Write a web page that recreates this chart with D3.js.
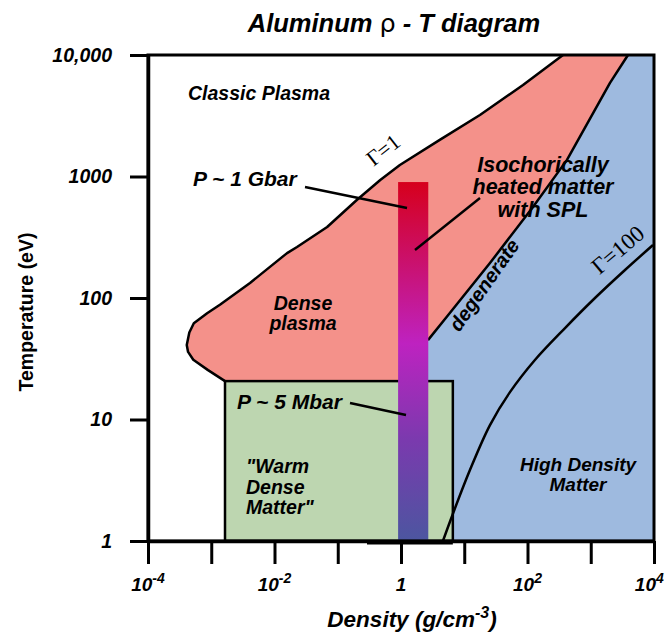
<!DOCTYPE html>
<html>
<head>
<meta charset="utf-8">
<script src="https://cdn.jsdelivr.net/npm/d3@7"></script>
<style>
  html, body { margin: 0; padding: 0; background: #fff; }
  svg { display: block; }
  .lbl { font-family: "Liberation Sans", Arial, sans-serif; font-weight: bold; font-style: italic; fill: #000; }
  .gam { font-family: "Liberation Serif", "Times New Roman", serif; font-weight: normal; font-style: normal; fill: #000; }
</style>
</head>
<body>
<svg id="chart" width="666" height="633"></svg>
<script>
// Axis ticks (decades) and their labels
const densityTicks = [1e-4, 1e-3, 1e-2, 1e-1, 1, 1e1, 1e2, 1e3, 1e4];
const densityLabels = [[1e-4, "10", "-4"], [1e-2, "10", "-2"], [1, "1", ""], [1e2, "10", "2"], [1e4, "10", "4"]];
const temperatureTicks = [1, 10, 100, 1000, 10000];
const temperatureLabels = ["1", "10", "100", "1000", "10,000"];

// Region boundaries as [density g/cc, temperature eV]
// Gamma = 1 coupling line, bounding the dense plasma from below-left up to the top edge
const gammaOneLine = [
  [1.65e-3, 20.7], [8.9e-4, 25.5], [5.2e-4, 31], [4.3e-4, 36], [4.1e-4, 41],
  [4.5e-4, 52], [5.3e-4, 62], [8.6e-4, 75], [1.37e-3, 88], [4.1e-3, 133],
  [0.0158, 234], [0.0227, 263], [0.068, 384], [0.2, 641], [0.47, 936],
  [0.96, 1244], [4.1, 2000], [17.7, 3210], [85, 5660], [364, 10000]
];
// Degeneracy boundary, from the top edge down to the heating column
const degenerateLine = [
  [3880, 10000], [2015, 5890], [421, 1370], [122, 561], [25.5, 194], [5.3, 70], [2.67, 45], [1.4, 20.7]
];
// Gamma = 100 coupling line
const gammaHundredLine = [
  [4.6, 1], [6.6, 1.67], [12.3, 3.84], [25.5, 9.0], [52.8, 16.8], [131, 30.9],
  [392, 56.6], [1167, 100], [3480, 170], [9640, 273]
];
// Warm dense matter box
const wdmDensity = [1.65e-3, 6.6];
const wdmTemperature = [1, 20.7];
// Isochoric heating column
const splDensity = [0.9, 2.7];
const splTemperature = [1, 900];

const svg = d3.select("#chart");

const x = d3.scaleLog().domain([1e-4, 1e4]).range([148, 654]);
const y = d3.scaleLog().domain([1, 1e4]).range([541, 55]);

const line = d3.line().x(d => x(d[0])).y(d => y(d[1]));
const smooth = d3.line().x(d => x(d[0])).y(d => y(d[1])).curve(d3.curveCatmullRom.alpha(0.5));

// Gradient for the heating column
const defs = svg.append("defs");
const grad = defs.append("linearGradient").attr("id", "splGrad")
  .attr("x1", 0).attr("y1", 0).attr("x2", 0).attr("y2", 1);
grad.append("stop").attr("offset", "0%").attr("stop-color", "#D6001C");
grad.append("stop").attr("offset", "45%").attr("stop-color", "#BE22C0");
grad.append("stop").attr("offset", "72%").attr("stop-color", "#7A3AAE");
grad.append("stop").attr("offset", "100%").attr("stop-color", "#4C56A0");

const plot = svg.append("g");

// Dense plasma region (between Gamma=1 and degeneracy)
const densePlasma = gammaOneLine.concat(degenerateLine);
plot.append("path")
  .attr("d", line(densePlasma) + "Z")
  .attr("fill", "#F4918A");

// Degenerate / high density region
const highDensity = degenerateLine.concat([
  [wdmDensity[1], wdmTemperature[1]],
  [wdmDensity[1], 1], [1e4, 1], [1e4, 1e4]
]);
plot.append("path")
  .attr("d", line(highDensity) + "Z")
  .attr("fill", "#9EBADF");

// Warm dense matter box
plot.append("rect")
  .attr("x", x(wdmDensity[0]))
  .attr("y", y(wdmTemperature[1]))
  .attr("width", x(wdmDensity[1]) - x(wdmDensity[0]))
  .attr("height", y(wdmTemperature[0]) - y(wdmTemperature[1]))
  .attr("fill", "#BDD6B0")
  .attr("stroke", "#000").attr("stroke-width", 2.5);

// Boundary lines
plot.append("path").attr("d", line(gammaOneLine))
  .attr("fill", "none").attr("stroke", "#000").attr("stroke-width", 2.5).attr("stroke-linejoin", "round");
plot.append("path").attr("d", line(degenerateLine.slice(0, -1)))
  .attr("fill", "none").attr("stroke", "#000").attr("stroke-width", 2.5).attr("stroke-linejoin", "round");
plot.append("path").attr("d", smooth(gammaHundredLine))
  .attr("fill", "none").attr("stroke", "#000").attr("stroke-width", 2.5);

// Thick segment along the bottom edge
plot.append("line")
  .attr("x1", x(0.29)).attr("x2", x(wdmDensity[1]))
  .attr("y1", y(1) + 2).attr("y2", y(1) + 2)
  .attr("stroke", "#000").attr("stroke-width", 3);

// Heating column
plot.append("rect")
  .attr("x", x(splDensity[0]))
  .attr("y", y(splTemperature[1]))
  .attr("width", x(splDensity[1]) - x(splDensity[0]))
  .attr("height", y(splTemperature[0]) - y(splTemperature[1]))
  .attr("fill", "url(#splGrad)");

// Leader lines
const leaders = [
  [[305, 187], [407, 208]],
  [[480, 198], [415, 250]],
  [[350, 403], [406, 415]]
];
plot.selectAll("line.leader").data(leaders).join("line")
  .attr("class", "leader")
  .attr("x1", d => d[0][0]).attr("y1", d => d[0][1])
  .attr("x2", d => d[1][0]).attr("y2", d => d[1][1])
  .attr("stroke", "#000").attr("stroke-width", 2.5);

// Text annotations
function multi(lines, cx, y0, dy, size, anchor) {
  const t = plot.append("text").attr("class", "lbl")
    .attr("font-size", size).attr("text-anchor", anchor);
  lines.forEach((s, i) => t.append("tspan").attr("x", cx).attr("y", y0 + i * dy).text(s));
  return t;
}
multi(["Classic Plasma"], 188, 100, 0, 19.5, "start");
multi(["P ~ 1 Gbar"], 193, 186, 0, 21, "start");
multi(["Dense", "plasma"], 303, 310, 20, 19.5, "middle");
multi(["Isochorically", "heated matter", "with SPL"], 543, 171.5, 22.5, 21.5, "middle");
multi(["High Density", "Matter"], 578, 471, 20, 19, "middle");
multi(["P ~ 5 Mbar"], 237, 409, 0, 21, "start");
multi(["\"Warm", "Dense", "Matter\""], 246, 473, 20.5, 19.5, "start");

plot.append("text").attr("class", "lbl").attr("font-size", 20)
  .attr("text-anchor", "middle").attr("dominant-baseline", "central")
  .attr("transform", "translate(484,285) rotate(-55)")
  .text("degenerate");

plot.append("text").attr("class", "gam").attr("font-size", 22)
  .attr("text-anchor", "middle").attr("dominant-baseline", "central")
  .attr("transform", "translate(383,150) rotate(-38)")
  .text("\u0393=1");
plot.append("text").attr("class", "gam").attr("font-size", 23)
  .attr("text-anchor", "middle").attr("dominant-baseline", "central")
  .attr("transform", "translate(618,250) rotate(-40)")
  .text("\u0393=100");

// Frame
svg.append("rect")
  .attr("x", x(1e-4)).attr("y", y(1e4))
  .attr("width", x(1e4) - x(1e-4)).attr("height", y(1) - y(1e4))
  .attr("fill", "none").attr("stroke", "#000").attr("stroke-width", 3);

// Axes
const yAxis = d3.axisLeft(y).tickValues(temperatureTicks)
  .tickFormat((d, i) => temperatureLabels[i]).tickSize(18).tickSizeOuter(0).tickPadding(18);
const gy = svg.append("g").attr("transform", `translate(${x(1e-4)},0)`).call(yAxis);
gy.select(".domain").attr("stroke-width", 3.5);
gy.selectAll(".tick line").attr("stroke-width", 3);
gy.selectAll(".tick text").attr("class", "lbl").attr("font-size", 19.5)
  .attr("font-family", null).attr("fill", "#000");

const xAxis = d3.axisBottom(x).tickValues(densityTicks)
  .tickFormat("").tickSize(23).tickSizeOuter(0);
const gx = svg.append("g").attr("transform", `translate(0,${y(1)})`).call(xAxis);
gx.select(".domain").attr("stroke-width", 3.5);
gx.selectAll(".tick line").attr("stroke-width", 3);

// Density tick labels with superscript exponents, kept inside the page
densityLabels.forEach(([v, base, exp]) => {
  const t = svg.append("text").attr("class", "lbl").attr("font-size", 19)
    .attr("text-anchor", "middle").attr("x", x(v)).attr("y", 591);
  t.append("tspan").text(base);
  if (exp) t.append("tspan").attr("font-size", 14).attr("dy", -8).text(exp);
  const b = t.node().getBBox();
  const over = b.x + b.width - 664;
  if (over > 0) t.attr("x", x(v) - over);
});

// Axis titles
const xt = svg.append("text").attr("class", "lbl").attr("font-size", 22.5)
  .attr("text-anchor", "middle").attr("x", 412).attr("y", 627);
xt.append("tspan").text("Density (g/cm");
xt.append("tspan").attr("font-size", 16).attr("dy", -9).text("-3");
xt.append("tspan").attr("dy", 9).text(")");

svg.append("text").attr("class", "lbl").attr("font-size", 19.5)
  .style("font-style", "normal")
  .attr("text-anchor", "middle")
  .attr("transform", "translate(33,312) rotate(-90)")
  .text("Temperature (eV)");

// Title
const title = svg.append("text").attr("class", "lbl").attr("font-size", 25.5)
  .attr("text-anchor", "middle").attr("x", 394).attr("y", 32);
title.append("tspan").text("Aluminum ");
title.append("tspan").attr("font-family", "'DejaVu Sans', sans-serif")
  .style("font-weight", "normal").style("font-style", "normal").text("\u03C1");
title.append("tspan").text(" - T diagram");
</script>
</body>
</html>
